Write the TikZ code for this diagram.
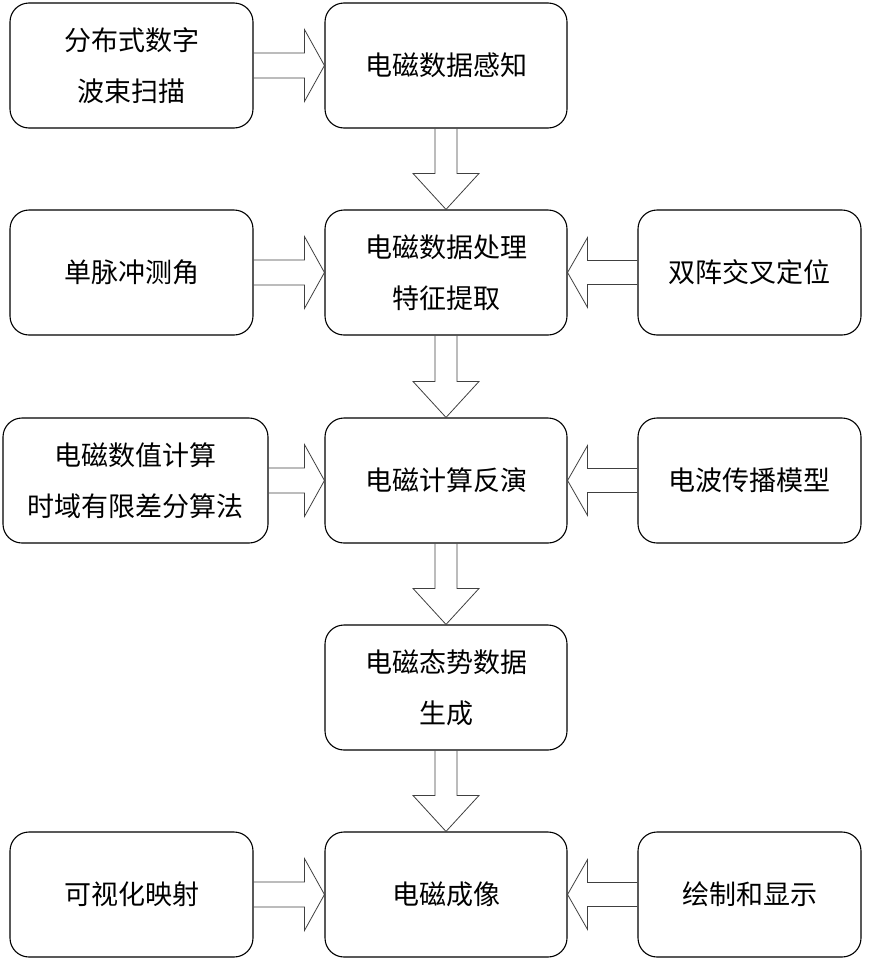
\documentclass[tikz,border=0pt]{standalone}
\usepackage{fontspec}
\newfontfamily\cjk{Noto Sans CJK SC}
\usetikzlibrary{calc}

\tikzset{
  box/.style={draw, line width=1.1pt, rounded corners=19pt, align=center,
    inner sep=0pt, font=\cjk\fontsize{27}{51}\selectfont},
  hollow/.style={draw=black!75, line width=0.8pt}
}
% hollow block arrows between two nodes
\newcommand{\toright}[2]{%
  \draw[hollow] let \p1=(#1.east), \p2=(#2.west) in
    (\x1,\y2+12.5pt) -- (\x2-20pt,\y2+12.5pt) -- (\x2-20pt,\y2+36pt) -- (\x2,\y2)
    -- (\x2-20pt,\y2-36pt) -- (\x2-20pt,\y2-12.5pt) -- (\x1,\y2-12.5pt);}
\newcommand{\toleft}[2]{%
  \draw[hollow] let \p1=(#1.west), \p2=(#2.east) in
    (\x1,\y2+12pt) -- (\x2+20pt,\y2+12pt) -- (\x2+20pt,\y2+35pt) -- (\x2,\y2)
    -- (\x2+20pt,\y2-35pt) -- (\x2+20pt,\y2-12pt) -- (\x1,\y2-12pt);}
\newcommand{\todown}[2]{%
  \draw[hollow] let \p1=(#1.south), \p2=(#2.north) in
    (\x1-11pt,\y1) -- (\x1-11pt,\y2+36pt) -- (\x1-33pt,\y2+36pt) -- (\x1,\y2)
    -- (\x1+33pt,\y2+36pt) -- (\x1+11pt,\y2+36pt) -- (\x1+11pt,\y1);}

\begin{document}
\begin{tikzpicture}[x=1pt, y=-1pt]
  \useasboundingbox (0,0) rectangle (868,964);

  % centre column
  \node[box, minimum width=242pt, minimum height=125pt] (sense) at (446,65.5) {电磁数据感知};
  \node[box, minimum width=242pt, minimum height=125pt] (proc) at (446,272.5) {电磁数据处理\\特征提取};
  \node[box, minimum width=242pt, minimum height=125pt] (invert) at (446,480.5) {电磁计算反演};
  \node[box, minimum width=242pt, minimum height=125pt] (gen) at (446,687.5) {电磁态势数据\\生成};
  \node[box, minimum width=242pt, minimum height=125pt] (image) at (446,894.5) {电磁成像};

  % left column
  \node[box, minimum width=243pt, minimum height=125pt] (scan) at (131.5,65.5) {分布式数字\\波束扫描};
  \node[box, minimum width=243pt, minimum height=125pt] (mono) at (131.5,272.5) {单脉冲测角};
  \node[box, minimum width=265pt, minimum height=125pt] (fdtd) at (135.5,480.5) {电磁数值计算\\时域有限差分算法};
  \node[box, minimum width=243pt, minimum height=125pt] (visual) at (131.5,894.5) {可视化映射};

  % right column
  \node[box, minimum width=223pt, minimum height=125pt] (cross) at (749.5,272.5) {双阵交叉定位};
  \node[box, minimum width=223pt, minimum height=125pt] (wave) at (749.5,480.5) {电波传播模型};
  \node[box, minimum width=223pt, minimum height=125pt] (render) at (749.5,894.5) {绘制和显示};

  % arrows
  \todown{sense}{proc}
  \todown{proc}{invert}
  \todown{invert}{gen}
  \todown{gen}{image}
  \toright{scan}{sense}
  \toright{mono}{proc}
  \toright{fdtd}{invert}
  \toright{visual}{image}
  \toleft{cross}{proc}
  \toleft{wave}{invert}
  \toleft{render}{image}
\end{tikzpicture}
\end{document}
